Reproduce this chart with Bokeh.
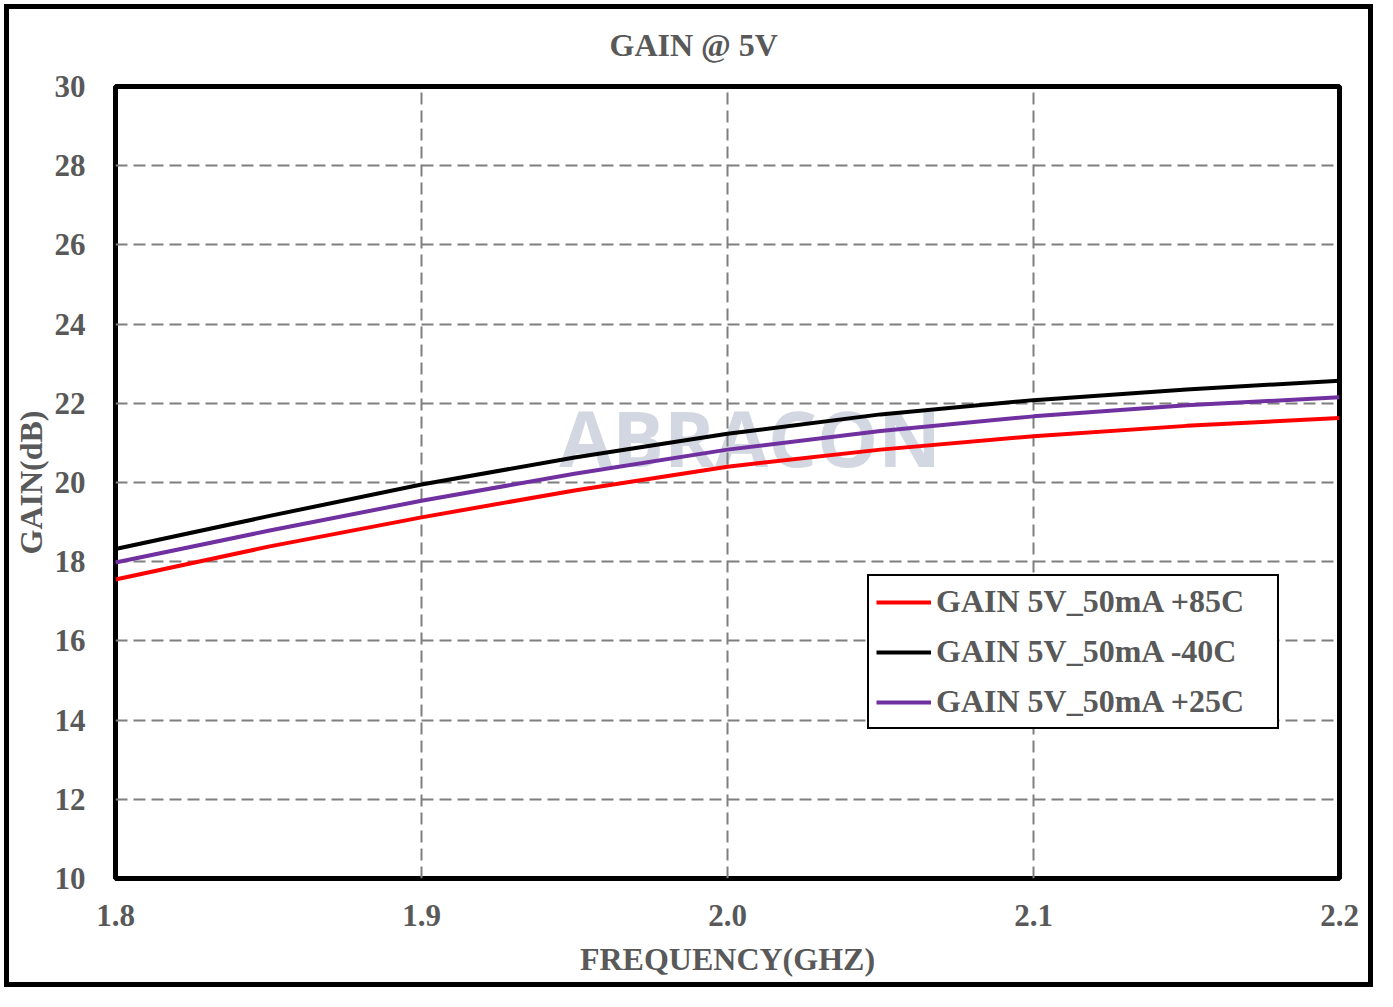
from bokeh.plotting import figure
from bokeh.models import Range1d, FixedTicker, Legend, LegendItem, Label, PrintfTickFormatter
from bokeh.embed import file_html
from bokeh.resources import INLINE

# ---- data ----
freq = [1.80, 1.85, 1.90, 1.95, 2.00, 2.05, 2.10, 2.15, 2.20]
gain_p85 = [17.55, 18.38, 19.12, 19.80, 20.40, 20.83, 21.17, 21.43, 21.63]
gain_m40 = [18.32, 19.15, 19.95, 20.63, 21.23, 21.72, 22.08, 22.35, 22.57]
gain_p25 = [17.98, 18.78, 19.54, 20.22, 20.83, 21.30, 21.67, 21.95, 22.15]
series_names = ["GAIN 5V_50mA +85C", "GAIN 5V_50mA -40C", "GAIN 5V_50mA +25C"]
series_colors = ["#ff0000", "#000000", "#7030a0"]
x_ticks = [1.8, 1.9, 2.0, 2.1, 2.2]
y_ticks = [10, 12, 14, 16, 18, 20, 22, 24, 26, 28, 30]

FONT = "Liberation Serif"
GREY = "#595959"

p = figure(width=1377, height=991, output_backend="svg", toolbar_location=None,
           x_range=Range1d(1.8, 2.2), y_range=Range1d(10, 30),
           min_border_left=115, min_border_right=38, min_border_top=86, min_border_bottom=113,
           background_fill_color="white", border_fill_alpha=0.0)
p.styles = {"background-color": "white",
            "box-shadow": "inset 0 0 0 4px white, inset 0 0 0 9px black"}

p.title.text = "GAIN @ 5V"
p.title.align = "left"
p.title.offset = 494
p.title.text_font = FONT
p.title.text_font_size = "32px"
p.title.text_font_style = "bold"
p.title.text_color = GREY
p.title.standoff = 47

p.outline_line_color = "black"
p.outline_line_width = 5

for ax in (p.xaxis, p.yaxis):
    ax.axis_line_color = None
    ax.major_tick_line_color = None
    ax.minor_tick_line_color = None
    ax.major_label_text_font = FONT
    ax.major_label_text_font_size = "31px"
    ax.major_label_text_font_style = "bold"
    ax.major_label_text_color = GREY
    ax.axis_label_text_font = FONT
    ax.axis_label_text_font_size = "32px"
    ax.axis_label_text_font_style = "bold"
    ax.axis_label_text_color = GREY

p.xaxis.ticker = FixedTicker(ticks=x_ticks)
p.xaxis.formatter = PrintfTickFormatter(format="%.1f")
p.yaxis.ticker = FixedTicker(ticks=y_ticks)
p.xaxis.axis_label = "FREQUENCY(GHZ)"
p.yaxis.axis_label = "GAIN(dB)"
p.xaxis.major_label_standoff = 20
p.yaxis.major_label_standoff = 24
p.xaxis.axis_label_standoff = 12
p.yaxis.axis_label_standoff = 3

p.grid.grid_line_color = "#7f7f7f"
p.grid.grid_line_width = 2
p.grid.grid_line_dash = "12 6"

wm = Label(x=1.945, y=19.81, text="ABRACON", text_font="Open Sans", text_font_size="77px",
           text_font_style="bold", text_color="#d3d7e2", level="image")
p.add_layout(wm)

items = []
for ys, name, col in zip([gain_p85, gain_m40, gain_p25], series_names, series_colors):
    r = p.line(freq, ys, line_color=col, line_width=4)
    items.append(LegendItem(label=name, renderers=[r]))

legend = Legend(items=items, location=(752, 149))
legend.label_text_font = FONT
legend.label_text_font_size = "32px"
legend.label_text_font_style = "bold"
legend.label_text_color = GREY
legend.glyph_width = 55
legend.label_standoff = 5
legend.label_width = 334
legend.padding = 7
legend.spacing = 13
legend.margin = 0
legend.border_line_color = "black"
legend.border_line_alpha = 1.0
legend.border_line_width = 2
legend.background_fill_color = "white"
legend.background_fill_alpha = 1.0
p.add_layout(legend)

open("out.html", "w").write(file_html(p, INLINE))
